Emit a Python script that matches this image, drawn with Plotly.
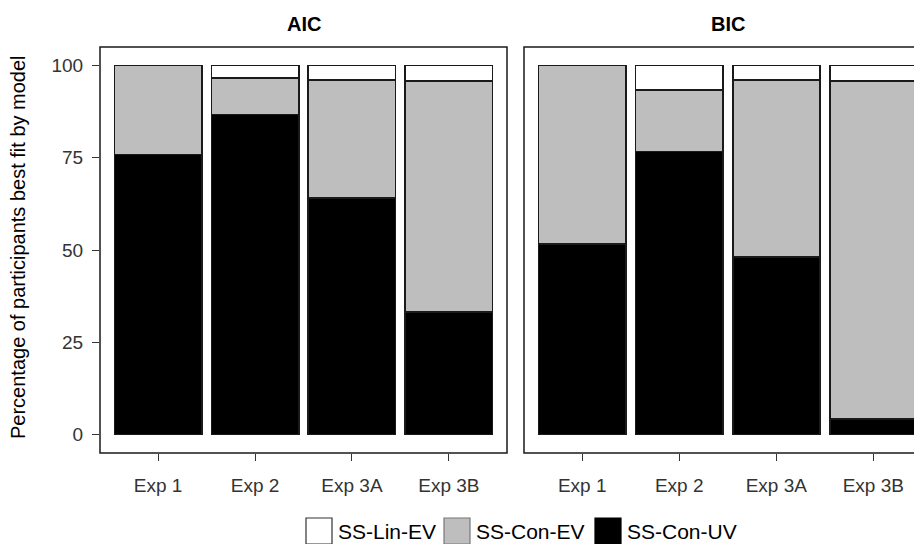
import plotly.graph_objects as go

experiments = ["Exp 1", "Exp 2", "Exp 3A", "Exp 3B"]
aic_con_uv = [75.9, 86.7, 64.0, 33.3]
aic_con_ev = [24.1, 10.0, 32.0, 62.5]
aic_lin_ev = [0.0, 3.3, 4.0, 4.2]
bic_con_uv = [51.7, 76.7, 48.0, 4.2]
bic_con_ev = [48.3, 16.7, 48.0, 91.6]
bic_lin_ev = [0.0, 6.6, 4.0, 4.2]
series_names = ["SS-Lin-EV", "SS-Con-EV", "SS-Con-UV"]
series_colors = ["#FFFFFF", "#BEBEBE", "#000000"]
y_ticks = [0, 25, 50, 75, 100]
panel_titles = ["AIC", "BIC"]

OFF = 8  # page body margin offset
W, H = 922 - OFF, 544 - OFF
ML = 100 - OFF
MT = 47 - OFF
MB = H - (453 - OFF)
MR = 0
PW = W - ML - MR
PH = H - MT - MB


def px_x(p):
    return (p - OFF - ML) / PW


def px_y(p):
    return (H - MB - (p - OFF)) / PH


FONT = "Liberation Sans, Arial, sans-serif"
fig = go.Figure()

panels = [
    ("x", "y", [aic_con_uv, aic_con_ev, aic_lin_ev]),
    ("x2", "y2", [bic_con_uv, bic_con_ev, bic_lin_ev]),
]
for xa, ya, vals in panels:
    for idx, v in zip([2, 1, 0], vals):
        fig.add_trace(go.Bar(
            x=experiments, y=v, name=series_names[idx], xaxis=xa, yaxis=ya,
            width=0.9, marker=dict(color=series_colors[idx],
                                   line=dict(color="#1a1a1a", width=1.8)),
            showlegend=False, hoverinfo="x+y+name",
        ))

d1 = [0, px_x(507)]
d2 = [px_x(524), 1]
unit = (507 - 100) / 4.2
tick_common = dict(showgrid=False, zeroline=False, showline=False, ticks="outside",
                   tickwidth=1.3, tickcolor="#333",
                   tickfont=dict(family=FONT, size=19, color="#333"))
fig.update_layout(
    width=W, height=H, barmode="stack", bargap=0.1,
    margin=dict(l=ML, r=MR, t=MT, b=MB),
    plot_bgcolor="white", paper_bgcolor="white",
    xaxis=dict(domain=d1, anchor="y", type="category", range=[-0.6, 3.6],
               ticklen=7, ticklabelstandoff=8, **tick_common),
    xaxis2=dict(domain=d2, anchor="y2", type="category",
                range=[-0.6, 3.6 - (931.5 - 922) / unit],
                ticklen=7, ticklabelstandoff=8, **tick_common),
    yaxis=dict(domain=[0, 1], anchor="x", range=[-5, 105], tickvals=y_ticks,
               ticklen=7, ticklabelstandoff=5, **tick_common),
    yaxis2=dict(domain=[0, 1], anchor="x2", range=[-5, 105], matches="y",
                showticklabels=False, showgrid=False, zeroline=False, showline=False, ticks=""),
)

shapes = []
shapes.append(dict(type="rect", xref="paper", yref="paper", x0=0, x1=px_x(507), y0=0, y1=1,
                   line=dict(color="#1a1a1a", width=1.5), fillcolor="rgba(0,0,0,0)"))
shapes.append(dict(type="rect", xref="paper", yref="paper", x0=px_x(524), x1=px_x(931.5), y0=0, y1=1,
                   line=dict(color="#1a1a1a", width=1.5), fillcolor="rgba(0,0,0,0)"))

annotations = []
centers = [(100 + 507) / 2, (524 + 931.5) / 2]
for t, c in zip(panel_titles, centers):
    annotations.append(dict(text="<b>%s</b>" % t, xref="paper", yref="paper", x=px_x(c), y=px_y(24),
                            xanchor="center", yanchor="middle", showarrow=False,
                            font=dict(family=FONT, size=20, color="#000")))
annotations.append(dict(text="Percentage of participants best fit by model", xref="paper", yref="paper",
                        x=px_x(18), y=px_y(247), textangle=-90, xanchor="center", yanchor="middle",
                        showarrow=False, font=dict(family=FONT, size=20, color="#000")))

key = 26
ly = 531
key_x = [306, 444, 595]
key_line = ["#333", "#777", "#000"]
for i, name in enumerate(series_names):
    x = key_x[i]
    shapes.append(dict(type="rect", xref="paper", yref="paper",
                       x0=px_x(x), x1=px_x(x + key), y0=px_y(ly + key / 2), y1=px_y(ly - key / 2),
                       line=dict(color=key_line[i], width=1.2), fillcolor=series_colors[i]))
    annotations.append(dict(text=name, xref="paper", yref="paper", x=px_x(x + key + 4), y=px_y(ly),
                            xanchor="left", yanchor="middle", showarrow=False,
                            font=dict(family=FONT, size=21, color="#000")))

fig.update_layout(shapes=shapes, annotations=annotations)
fig.write_html("out.html")
